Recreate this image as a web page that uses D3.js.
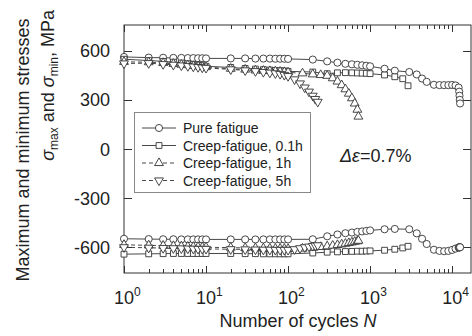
<!DOCTYPE html>
<html>
<head>
<meta charset="utf-8">
<script src="https://cdn.jsdelivr.net/npm/d3@7/dist/d3.min.js"></script>
<style>
  html, body { margin: 0; padding: 0; background: #fff; }
  svg { display: block; font-family: Arial, "Liberation Sans", sans-serif; }
</style>
</head>
<body>
<svg id="chart" width="472" height="336"></svg>
<script>
// Pure fatigue
const pureN   = [1,2,3,4,5,6,7,8,9,10,20,30,40,50,60,70,80,90,100,200,300,400,500,600,700,800,900,1000,1500,2000,3000,3700,4300,4900,6000,7000,8000,9000,10000,11000,12000,12200,12300,12400,12500];
const pureMax = [562,558,557,556,556,555,555,554,554,553,553,553,552,552,552,551,551,551,550,546,535,527,520,517,514,511,508,505,490,478,470,455,430,410,392,390,390,390,391,388,375,350,325,300,278];
const pureMin = [-548,-550,-551,-551,-552,-552,-552,-552,-552,-552,-552,-552,-552,-552,-552,-552,-552,-552,-552,-551,-533,-522,-514,-510,-506,-503,-500,-497,-490,-488,-490,-515,-548,-580,-615,-622,-624,-622,-616,-608,-602,-600,-600,-600,-600];

// Creep-fatigue, 0.1 h hold
const cf01N   = [1,2,3,4,5,6,7,8,9,10,20,30,40,50,60,70,80,90,100,200,300,400,500,600,700,800,900,1000,1500,2000,2500,2900];
const cf01Max = [548,540,535,530,525,520,515,512,508,505,498,492,488,485,482,480,478,476,474,470,460,465,466,465,464,463,462,460,452,441,429,386];
const cf01Min = [-642,-640,-639,-638,-638,-638,-638,-638,-638,-638,-638,-639,-639,-640,-640,-640,-640,-640,-640,-635,-630,-628,-626,-625,-624,-624,-623,-622,-618,-612,-604,-594];

// Creep-fatigue, 1 h hold
const cf1N   = [1,2,3,4,5,6,7,8,9,10,20,30,40,50,60,70,80,90,100,150,200,250,300,350,400,450,500,550,600,650,700,720];
const cf1Max = [532,530,525,520,515,512,508,505,502,500,490,485,480,478,476,474,472,470,468,462,456,452,447,432,412,390,365,338,310,278,240,198];
const cf1Min = [-585,-588,-590,-592,-594,-596,-597,-598,-599,-600,-602,-604,-605,-606,-607,-608,-608,-609,-610,-608,-602,-598,-594,-590,-586,-582,-578,-574,-570,-566,-563,-560];

// Creep-fatigue, 5 h hold
const cf5N   = [1,2,3,4,5,6,7,8,9,10,20,30,40,50,60,70,80,90,100,120,140,160,180,200,215,230];
const cf5Max = [522,524,518,514,510,506,503,500,497,495,486,480,475,470,466,462,458,452,445,425,400,375,350,325,305,288];
const cf5Min = [-600,-603,-605,-606,-607,-608,-609,-610,-610,-610,-612,-613,-614,-615,-615,-616,-616,-616,-616,-612,-606,-600,-596,-592,-590,-588];

const seriesNames = ["Pure fatigue", "Creep-fatigue, 0.1h", "Creep-fatigue, 1h", "Creep-fatigue, 5h"];
const yTicks = [-600, -300, 0, 300, 600];
const xDecades = [0, 1, 2, 3, 4];

const series = [
  { name: seriesNames[0], n: pureN, max: pureMax, min: pureMin, symbol: d3.symbolCircle,   size: 40, rot: 0,   dash: null },
  { name: seriesNames[1], n: cf01N, max: cf01Max, min: cf01Min, symbol: d3.symbolSquare,   size: 34, rot: 0,   dash: null },
  { name: seriesNames[2], n: cf1N,  max: cf1Max,  min: cf1Min,  symbol: d3.symbolTriangle, size: 34, rot: 0,   dash: "4,3" },
  { name: seriesNames[3], n: cf5N,  max: cf5Max,  min: cf5Min,  symbol: d3.symbolTriangle, size: 34, rot: 180, dash: "4,3" }
];

const ink = "#333";
const plot = { left: 124, right: 471, top: 25, bottom: 273 };

const svg = d3.select("#chart");

const x = d3.scaleLog().domain([1, Math.pow(10, 4.23)]).range([plot.left, plot.right]);
const y = d3.scaleLinear().domain([-757, 757]).range([plot.bottom, plot.top]);

// Plot frame
svg.append("rect")
  .attr("x", plot.left).attr("y", plot.top)
  .attr("width", plot.right - plot.left).attr("height", plot.bottom - plot.top)
  .attr("fill", "none").attr("stroke", ink).attr("stroke-width", 1);

// Log ticks (majors and minors) on bottom and top, pointing inward
const majorVals = xDecades.map(d => Math.pow(10, d));
const minorVals = [];
for (let d = 0; d <= 4; d++) for (let k = 2; k <= 9; k++) {
  const v = k * Math.pow(10, d);
  if (v <= x.domain()[1]) minorVals.push(v);
}
function drawXTicks(vals, len) {
  const g = svg.append("g").attr("stroke", ink).attr("stroke-width", 1);
  g.selectAll("line.b").data(vals).join("line")
    .attr("x1", d => Math.round(x(d)) + 0.5).attr("x2", d => Math.round(x(d)) + 0.5)
    .attr("y1", plot.bottom).attr("y2", plot.bottom - len);
  g.selectAll("line.t").data(vals).join("line").attr("class", "t")
    .attr("x1", d => Math.round(x(d)) + 0.5).attr("x2", d => Math.round(x(d)) + 0.5)
    .attr("y1", plot.top).attr("y2", plot.top + len);
}
drawXTicks(majorVals, 7);
drawXTicks(minorVals, 4);

// Y ticks on both sides, inward
const yt = svg.append("g").attr("stroke", ink).attr("stroke-width", 1);
yt.selectAll("line.l").data(yTicks).join("line").attr("class", "l")
  .attr("x1", plot.left).attr("x2", plot.left + 8)
  .attr("y1", d => Math.round(y(d)) + 0.5).attr("y2", d => Math.round(y(d)) + 0.5);
yt.selectAll("line.r").data(yTicks).join("line").attr("class", "r")
  .attr("x1", plot.right).attr("x2", plot.right - 8)
  .attr("y1", d => Math.round(y(d)) + 0.5).attr("y2", d => Math.round(y(d)) + 0.5);

// Y tick labels
svg.append("g").selectAll("text").data(yTicks).join("text")
  .attr("x", 110).attr("y", d => y(d) + 6.5)
  .attr("text-anchor", "end").attr("font-size", 18).attr("fill", "#222")
  .text(d => d);

// X tick labels 10^k
const xl = svg.append("g").selectAll("text").data(xDecades).join("text")
  .attr("x", d => x(Math.pow(10, d)) - 10).attr("y", 304)
  .attr("font-size", 18).attr("fill", "#222");
xl.append("tspan").text("10");
xl.append("tspan").attr("dy", -8).attr("font-size", 12).text(d => d);

// X axis title
const xt = svg.append("text").attr("x", 298).attr("y", 327)
  .attr("text-anchor", "middle").attr("font-size", 18).attr("fill", "#222");
xt.append("tspan").text("Number of cycles ");
xt.append("tspan").attr("font-style", "italic").text("N");

// Y axis title (two lines, rotated)
svg.append("text")
  .attr("transform", "translate(29,150) rotate(-90)")
  .attr("text-anchor", "middle").attr("font-size", 18).attr("fill", "#222")
  .text("Maximum and minimum stresses");
const yl2 = svg.append("text")
  .attr("transform", "translate(54,10) rotate(-90)")
  .attr("text-anchor", "end").attr("font-size", 18).attr("fill", "#222");
yl2.append("tspan").attr("font-style", "italic").text("σ");
yl2.append("tspan").attr("font-size", 12).attr("dy", 4).text("max");
yl2.append("tspan").attr("dy", -4).text(" and ");
yl2.append("tspan").attr("font-style", "italic").text("σ");
yl2.append("tspan").attr("font-size", 12).attr("dy", 4).text("min");
yl2.append("tspan").attr("dy", -4).text(", MPa");

// Data lines and markers
const line = d3.line().x(d => x(d[0])).y(d => y(d[1]));
series.forEach(s => {
  [s.max, s.min].forEach(vals => {
    const pts = s.n.map((n, i) => [n, vals[i]]);
    svg.append("path").datum(pts)
      .attr("d", line).attr("fill", "none")
      .attr("stroke", ink).attr("stroke-width", 0.9)
      .attr("stroke-dasharray", s.dash);
    svg.append("g").selectAll("path").data(pts).join("path")
      .attr("d", d3.symbol().type(s.symbol).size(s.size))
      .attr("transform", d => `translate(${x(d[0])},${y(d[1])}) rotate(${s.rot})`)
      .attr("fill", "#fff").attr("stroke", ink).attr("stroke-width", 0.9);
  });
});

// Legend
const lg = svg.append("g");
lg.append("rect").attr("x", 134.5).attr("y", 112.5).attr("width", 176).attr("height", 80)
  .attr("fill", "#fff").attr("stroke", "#888").attr("stroke-width", 1);
series.forEach((s, i) => {
  const ry = 128 + i * 17.5;
  lg.append("line").attr("x1", 142).attr("x2", 176).attr("y1", ry).attr("y2", ry)
    .attr("stroke", ink).attr("stroke-width", 0.9).attr("stroke-dasharray", s.dash);
  lg.append("path").attr("d", d3.symbol().type(s.symbol).size(s.size))
    .attr("transform", `translate(159,${ry}) rotate(${s.rot})`)
    .attr("fill", "#fff").attr("stroke", ink).attr("stroke-width", 0.9);
  lg.append("text").attr("x", 183).attr("y", ry + 5).attr("font-size", 14).attr("fill", "#222")
    .text(s.name);
});

// Strain range annotation
const ann = svg.append("text").attr("x", 340).attr("y", 162).attr("font-size", 18).attr("fill", "#222");
ann.append("tspan").attr("font-style", "italic").text("Δε");
ann.append("tspan").text("=0.7%");
</script>
</body>
</html>
